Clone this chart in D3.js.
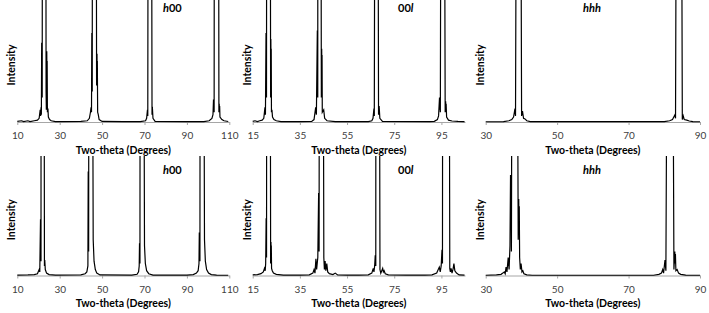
<!DOCTYPE html>
<html>
<head>
<meta charset="utf-8">
<script src="https://cdn.jsdelivr.net/npm/d3@7"></script>
<style>
body { margin: 0; background: #fff; }
text { font-family: Lato, "Open Sans", sans-serif; }
</style>
</head>
<body>
<svg id="chart" width="709" height="313"></svg>
<script>
// diffraction scans, [two-theta, intensity] with intensity in % of the plot height
// (values above 100 run off the top of the plot, as in the original figure)
var topH00 = [[10,0.5],[12,1],[13,0.3],[15,1],[16,0.4],[18,1],[19.5,1.5],[20.3,3],[20.8,10],[21.0,5],[21.2,12],[21.35,6],[21.5,65],[21.6,30],[21.68,60],[21.75,20],[21.8,150],
    [23.5,150],[23.58,25],[23.7,10],[23.9,58],[24.0,30],[24.08,50],[24.2,8],[24.45,11],[24.65,4],[25.2,2],[26,1],[28,0.3],
    [40,0.5],[43,1],[44,3],[44.5,8],[44.8,12],[45.0,8],[45.15,73],[45.23,35],[45.3,65],[45.35,25],[45.4,150],
    [47.3,150],[47.4,30],[47.6,56],[47.68,30],[47.75,50],[47.9,8],[48.2,6],[48.6,2],[50,0.5],[60,0.3],
    [68,0.3],[70.5,1],[71.0,3],[71.4,10],[71.55,5],[71.65,150],[73.4,150],[73.55,6],[73.7,12.5],[74,3],[75,0.5],[90,0.3],
    [98,0.3],[100.5,1],[101.8,3],[102.3,6],[102.55,18.5],[102.65,10],[102.75,17],[102.85,8],[102.9,150],
    [105.0,150],[105.1,8],[105.25,15],[105.35,9],[105.45,13],[105.6,4],[106.5,2],[107.5,1],[109.5,0.4]];

var topOOl = [[15,0.5],[16,1],[17,0.4],[18,1],[19,1.5],[19.7,3],[20.2,12],[20.4,6],[20.65,73],[20.72,35],[20.8,68],[20.85,20],[20.9,150],
    [22.5,150],[22.6,20],[22.7,68],[22.78,35],[22.85,60],[22.95,8],[23.15,10],[23.4,4],[24,2],[25,1],[27,0.3],
    [35,0.3],[40,0.5],[41,2],[41.7,12],[42.0,6],[42.4,75],[42.47,35],[42.54,70],[42.58,20],[42.6,150],
    [44.0,150],[44.1,20],[44.25,60],[44.32,30],[44.4,55],[44.5,8],[45.1,10],[45.5,3],[46.5,1],[50,0.3],
    [64,0.3],[65.5,1],[66.0,3],[66.4,11],[66.55,5],[66.7,150],[68.2,150],[68.35,6],[68.6,13],[68.9,3],[70,0.5],[90,0.3],
    [92,0.5],[93.3,2],[93.8,5],[94.2,20],[94.3,10],[94.4,18],[94.55,8],[94.7,150],
    [96.4,150],[96.6,8],[96.8,17],[96.9,9],[97.0,15],[97.2,4],[98,1.5],[99.5,0.8],[102,0.5],[104.8,0.3]];

var topHHH = [[30,0.2],[35,0.3],[36.5,1],[37.3,2],[37.8,4],[38.2,11],[38.35,5],[38.5,150],
    [39.9,150],[40.05,5],[40.3,9],[40.6,3],[41.0,2.5],[41.5,1],[42.5,0.3],
    [80,0.3],[81.5,1],[82.3,2],[83.0,6],[83.15,3],[83.3,150],[84.9,150],[85.05,2],[85.3,5],[85.6,2],[86.3,1.5],[87,0.8],[88,0.3],[90,0.2]];

var botH00 = [[10,0.3],[15,0.5],[18,0.8],[19.5,1.5],[20.3,5],[20.6,3],[20.95,47],[21.05,20],[21.12,40],[21.18,12],[21.2,150],
    [22.7,150],[22.8,8],[22.95,13],[23.2,5],[23.8,2],[25,0.8],[28,0.3],
    [40,0.5],[42,1.5],[42.8,3],[43.3,8],[43.45,87],[43.52,40],[43.6,80],[43.66,20],[43.7,150],
    [45.6,150],[45.8,30],[46.2,12],[46.8,5],[47.5,2],[49,0.5],
    [64,0.3],[66.5,1],[67.2,3],[67.5,8],[67.65,27],[67.72,12],[67.8,25],[67.86,10],[67.9,150],
    [69.8,150],[70.0,25],[70.4,10],[71,4],[72,1.5],[74,0.3],
    [90,0.3],[93,0.8],[94.5,2],[95.3,4],[95.7,10],[95.85,36],[95.95,12],[96.05,35],[96.15,12],[96.2,150],
    [98.1,150],[98.3,30],[98.7,12],[99.3,5],[100.2,2],[101.5,0.8],[104,0.3],[109.5,0.2]];

var botOOl = [[15,0.5],[17,0.8],[18.5,1.5],[19.5,3],[20.0,6],[20.3,4],[20.5,10],[20.7,48],[20.77,25],[20.83,45],[20.87,15],[20.9,150],
    [22.5,150],[22.6,10],[22.75,28],[22.82,15],[22.88,25],[23.0,6],[23.3,4],[23.8,2],[25,1],[28,0.3],
    [35,0.3],[39,0.5],[40.5,2],[41.0,5],[41.4,2],[41.8,14],[42.1,5],[42.6,15],[42.95,69],[43.02,35],[43.1,65],[43.15,20],[43.2,150],
    [45.0,150],[45.15,15],[45.4,5],[45.7,12],[46.0,4],[46.4,10],[46.8,3],[47.5,1.5],[49,0.8],[50,2],[51,0.5],[55,0.3],
    [60,0.3],[64,0.5],[65.5,2],[66.1,6],[66.4,3],[66.7,8],[66.95,17],[67.05,9],[67.12,15],[67.18,8],[67.2,150],
    [68.8,150],[68.95,5],[69.3,2],[70.1,6],[70.4,3],[70.7,4],[71.2,1.5],[72.5,0.5],[80,0.3],
    [88,0.3],[91,0.5],[93,2],[94.1,7],[94.5,3],[94.9,8],[95.25,21.5],[95.32,12],[95.4,20],[95.45,10],[95.5,150],
    [98.4,150],[98.55,6],[98.8,3],[99.1,6],[99.5,2],[100.0,6],[100.3,10],[100.7,4],[101.4,2],[102.5,0.5],[104.8,0.3]];

var botHHH = [[30,0.2],[33,0.5],[34.3,1],[34.8,2],[35.2,3],[35.45,1.5],[35.7,7],[35.95,3],[36.3,15],[36.55,5],[36.8,25],[36.95,84],[37.05,40],[37.12,80],[37.2,20],[37.3,150],
    [38.95,150],[39.1,30],[39.25,64],[39.32,35],[39.4,58],[39.5,15],[39.7,5],[39.9,10],[40.15,3],[40.4,4],[40.7,1.5],[41.5,0.5],[43,0.2],
    [77,0.2],[78.5,1],[79.2,2],[79.55,5],[79.8,2],[80.2,13],[80.45,4],[80.67,150],
    [82.5,150],[82.7,5],[82.95,20],[83.05,10],[83.12,18],[83.25,4],[83.6,5],[84,2],[84.6,1],[86,0.3],[90,0.2]];

var domainH00 = [10, 110], ticksH00 = [10, 30, 50, 70, 90, 110];
var domainOOl = [15, 105], ticksOOl = [15, 35, 55, 75, 95];
var domainHHH = [30, 90], ticksHHH = [30, 50, 70, 90];

var xTitle = 'Two-theta (Degrees)';
var yTitle = 'Intensity';

var svg = d3.select('#chart');

// plot area edges in pixels, per column and per row
var colLeft = [17.3, 252.7, 485.7];
var colRight = [229.3, 465, 700];
var rowTop = [0, 156];
var rowBase = [122, 275.5];
var labelY = [12, 174];
var labelX = [163, 398, 583];

function drawPanel(col, row, series, domain, ticks, labelParts) {
    var left = colLeft[col], right = colRight[col];
    var top = rowTop[row], base = rowBase[row];

    var x = d3.scaleLinear().domain(domain).range([left, right]);
    var y = d3.scaleLinear().domain([0, 100]).range([base, top]);

    var clipId = 'clip' + col + '' + row;
    svg.append('clipPath').attr('id', clipId)
        .append('rect')
        .attr('x', left - 1)
        .attr('y', top)
        .attr('width', right - left + 2)
        .attr('height', base - top + 1);

    var xAxis = d3.axisBottom(x).tickValues(ticks).tickSize(3).tickSizeOuter(0).tickPadding(7);
    var axisG = svg.append('g')
        .attr('transform', 'translate(0,' + base + ')')
        .call(xAxis);
    axisG.attr('font-family', 'Lato, sans-serif').attr('font-size', 10);
    axisG.select('.domain').attr('stroke', '#a6a6a6');
    axisG.selectAll('.tick line').attr('stroke', '#a6a6a6');
    axisG.selectAll('.tick text').attr('fill', '#404040');

    var line = d3.line()
        .x(function(d) { return x(d[0]); })
        .y(function(d) { return y(d[1]); });

    svg.append('path')
        .datum(series)
        .attr('clip-path', 'url(#' + clipId + ')')
        .attr('fill', 'none')
        .attr('stroke', '#000')
        .attr('stroke-width', 1.2)
        .attr('stroke-linejoin', 'miter')
        .attr('d', line);

    svg.append('text')
        .attr('x', (left + right) / 2)
        .attr('y', base + 31.5)
        .attr('text-anchor', 'middle')
        .style('font-size', '10.5px')
        .style('font-weight', 'bold')
        .text(xTitle);

    svg.append('text')
        .attr('transform', 'translate(' + (left - 5.6) + ',' + ((top + base) / 2 + 4) + ') rotate(-90)')
        .attr('text-anchor', 'middle')
        .attr('dy', '0.35em')
        .style('font-size', '10.5px')
        .style('font-weight', 'bold')
        .text(yTitle);

    var lab = svg.append('text')
        .attr('x', labelX[col])
        .attr('y', labelY[row])
        .style('font-size', '11px')
        .style('font-weight', 'bold');
    labelParts.forEach(function(p) {
        lab.append('tspan')
            .style('font-style', p[1] ? 'italic' : 'normal')
            .text(p[0]);
    });
}

drawPanel(0, 0, topH00, domainH00, ticksH00, [['h', true], ['00', false]]);
drawPanel(1, 0, topOOl, domainOOl, ticksOOl, [['00', false], ['l', true]]);
drawPanel(2, 0, topHHH, domainHHH, ticksHHH, [['hhh', true]]);
drawPanel(0, 1, botH00, domainH00, ticksH00, [['h', true], ['00', false]]);
drawPanel(1, 1, botOOl, domainOOl, ticksOOl, [['00', false], ['l', true]]);
drawPanel(2, 1, botHHH, domainHHH, ticksHHH, [['hhh', true]]);
</script>
</body>
</html>
